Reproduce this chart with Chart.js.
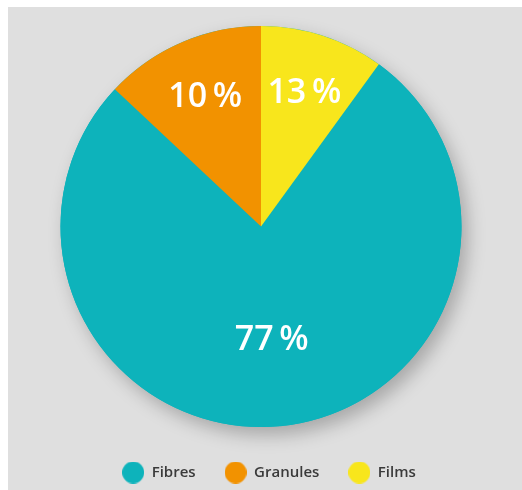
<!DOCTYPE html>
<html>
<head>
<meta charset="utf-8">
<script src="https://cdn.jsdelivr.net/npm/chart.js@4"></script>
<style>
    body { margin: 0; background: #ffffff; }
    #wrap { position: absolute; left: 8px; top: 7px; width: 514px; height: 483px; background: #dfdfdf; }
</style>
</head>
<body>
<div id="wrap"><canvas id="pieChart"></canvas></div>
<script>
// data
const categories = ['Fibres', 'Granules', 'Films'];
const shares = [77, 13, 10];
const printedLabels = ['77\u2009%', '10\u2009%', '13\u2009%'];
const colours = ['#0db3bb', '#f29200', '#f8e61c'];

function dot(colour) {
    const c = document.createElement('canvas');
    c.width = 22; c.height = 22;
    const g = c.getContext('2d');
    g.fillStyle = colour;
    g.beginPath();
    g.arc(11, 11, 11, 0, Math.PI * 2);
    g.fill();
    return c;
}

const total = shares.reduce((a, b) => a + b, 0);

// soft drop shadow under the whole pie
const shadowPlugin = {
    id: 'pieShadow',
    beforeDatasetsDraw(chart) {
        const arc = chart.getDatasetMeta(0).data[0];
        const ctx = chart.ctx;
        ctx.save();
        ctx.shadowColor = 'rgba(0,0,0,0.25)';
        ctx.shadowBlur = 18;
        ctx.shadowOffsetX = 6;
        ctx.shadowOffsetY = 8;
        ctx.fillStyle = colours[0];
        ctx.beginPath();
        ctx.arc(arc.x, arc.y, arc.outerRadius, 0, Math.PI * 2);
        ctx.fill();
        ctx.restore();
    }
};

// percentage text inside each slice
const labelPlugin = {
    id: 'sliceLabels',
    afterDatasetsDraw(chart) {
        const ctx = chart.ctx;
        chart.getDatasetMeta(0).data.forEach((arc, i) => {
            const mid = (arc.startAngle + arc.endAngle) / 2;
            const r = arc.outerRadius * (shares[i] > 50 ? 0.57 : 0.7);
            ctx.save();
            ctx.fillStyle = '#ffffff';
            ctx.font = '600 34px "Open Sans"';
            ctx.textAlign = 'center';
            ctx.textBaseline = 'middle';
            ctx.fillText(printedLabels[i], arc.x + Math.cos(mid) * r, arc.y + Math.sin(mid) * r);
            ctx.restore();
        });
    }
};

// nudge legend a little right and down, as in the original
const legendShift = {
    id: 'legendShift',
    afterLayout(chart) {
        chart.legend.left += 8;
        chart.legend.right += 8;
        chart.legend.top += 9;
        chart.legend.bottom += 9;
    }
};

new Chart(document.getElementById('pieChart'), {
    type: 'pie',
    data: {
        labels: categories,
        datasets: [{
            data: shares,
            backgroundColor: colours,
            borderWidth: 0,
            hoverOffset: 0
        }]
    },
    options: {
        responsive: true,
        maintainAspectRatio: false,
        animation: false,
        rotation: 360 * shares[2] / total,
        layout: { padding: { top: 19, left: 0, right: 8, bottom: 9 } },
        plugins: {
            tooltip: { enabled: false },
            legend: {
                position: 'bottom',
                labels: {
                    usePointStyle: true,
                    pointStyleWidth: 22,
                    padding: 29,
                    color: '#3a3a3a',
                    font: { family: '"Open Sans"', size: 15, weight: '600' },
                    generateLabels(chart) {
                        return categories.map((name, i) => ({
                            text: name,
                            fillStyle: colours[i],
                            strokeStyle: colours[i],
                            lineWidth: 0,
                            pointStyle: dot(colours[i]),
                            fontColor: '#3a3a3a',
                            hidden: false,
                            index: i
                        }));
                    }
                }
            }
        }
    },
    plugins: [shadowPlugin, labelPlugin, legendShift]
});
</script>
</body>
</html>
